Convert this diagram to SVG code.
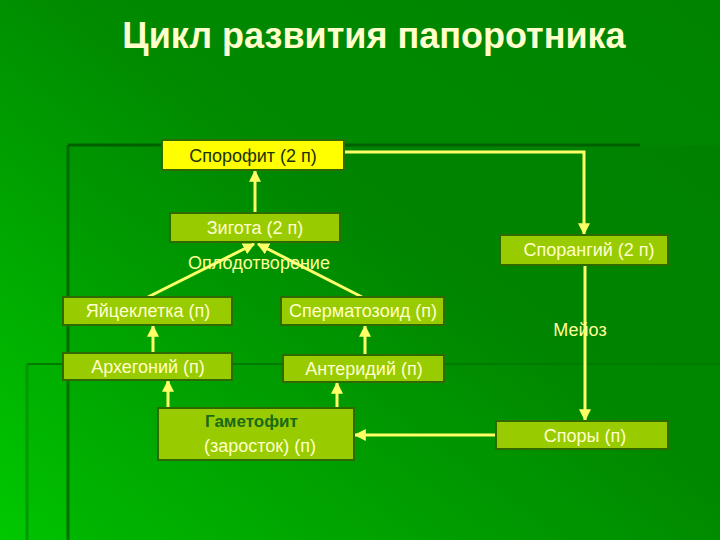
<svg xmlns="http://www.w3.org/2000/svg" width="720" height="540" viewBox="0 0 720 540">
<defs>
<linearGradient id="bg" x1="1" y1="0" x2="0" y2="1">
<stop offset="0" stop-color="#008400"/>
<stop offset="0.45" stop-color="#008a00"/>
<stop offset="1" stop-color="#00c800"/>
</linearGradient>
<marker id="ah" viewBox="0 0 10 10" refX="9" refY="5" markerWidth="4" markerHeight="4" orient="auto" markerUnits="strokeWidth">
<path d="M0,0 L10,5 L0,10 z" fill="#ffff66"/>
</marker>
<style>
.box{fill:#99cc00;stroke:#2f6a00;stroke-width:2}
.lbl{font-family:"Liberation Sans",Arial,sans-serif;font-size:18px;fill:#ffffcc;text-anchor:middle}
.cn{stroke:#ffff66;stroke-width:3;fill:none;marker-end:url(#ah)}
.note{font-family:"Liberation Sans",Arial,sans-serif;font-size:18px;fill:#ffff99;text-anchor:middle}
</style>
</defs>
<rect width="720" height="540" fill="url(#bg)"/>
<g id="decor">
<rect x="68" y="145" width="652" height="395" fill="#004000" fill-opacity="0.06"/>
<line x1="68" y1="145" x2="68" y2="540" stroke="#006a00" stroke-width="3"/>
<line x1="68" y1="145" x2="640" y2="145" stroke="#006000" stroke-width="3"/>
<rect x="27" y="364" width="693" height="176" fill="#00a000" fill-opacity="0.12"/>
<line x1="27" y1="364" x2="27" y2="540" stroke="#009a00" stroke-width="3"/>
<line x1="27" y1="364" x2="720" y2="364" stroke="#007a00" stroke-width="2"/>
</g>
<text x="374" y="48" font-family="Liberation Sans,Arial,sans-serif" font-weight="bold" font-size="36" fill="#ffffcc" text-anchor="middle">Цикл развития папоротника</text>
<g id="connectors">
<line class="cn" x1="255" y1="213" x2="255" y2="171"/>
<line class="cn" x1="148" y1="297" x2="254" y2="244"/>
<line class="cn" x1="362" y1="297" x2="258" y2="244"/>
<line class="cn" x1="153" y1="353" x2="153" y2="326"/>
<line class="cn" x1="365" y1="355" x2="365" y2="326"/>
<line class="cn" x1="168" y1="408" x2="168" y2="381"/>
<line class="cn" x1="337" y1="408" x2="337" y2="383"/>
<path class="cn" d="M344,152 H584 V234"/>
<line class="cn" x1="585" y1="265" x2="585" y2="420"/>
<line class="cn" x1="496" y1="435" x2="355" y2="435"/>
</g>
<text class="note" x="259" y="269">Оплодотворение</text>
<text class="note" x="580" y="336">Мейоз</text>
<g id="sporophyte"><rect x="162" y="140" width="182" height="30" fill="#ffff00" stroke="#2f6a00" stroke-width="2"/><text class="lbl" x="253" y="162" style="fill:#1a3300">Спорофит (2 п)</text></g>
<g id="zygote"><rect class="box" x="170" y="213" width="170" height="29"/><text class="lbl" x="255" y="234">Зигота (2 п)</text></g>
<g id="egg"><rect class="box" x="63" y="297" width="169" height="28"/><text class="lbl" x="148" y="317">Яйцеклетка (п)</text></g>
<g id="sperm"><rect class="box" x="281" y="297" width="163" height="28"/><text class="lbl" x="363" y="317">Сперматозоид (п)</text></g>
<g id="archegonium"><rect class="box" x="63" y="353" width="169" height="27"/><text class="lbl" x="148" y="373">Архегоний (п)</text></g>
<g id="antheridium"><rect class="box" x="283" y="355" width="161" height="27"/><text class="lbl" x="364" y="375">Антеридий (п)</text></g>
<g id="gametophyte"><rect class="box" x="158" y="408" width="196" height="52"/><text x="205" y="427" font-family="Liberation Sans,Arial,sans-serif" font-weight="bold" font-size="17" fill="#1a6a1a">Гаметофит</text><text x="204" y="452" font-family="Liberation Sans,Arial,sans-serif" font-size="18" fill="#ffffcc">(заросток) (п)</text></g>
<g id="sporangium"><rect class="box" x="500" y="235" width="168" height="30"/><text class="lbl" x="589" y="256">Спорангий (2 п)</text></g>
<g id="spores"><rect class="box" x="496" y="421" width="172" height="28"/><text class="lbl" x="585" y="442">Споры (п)</text></g>
</svg>
